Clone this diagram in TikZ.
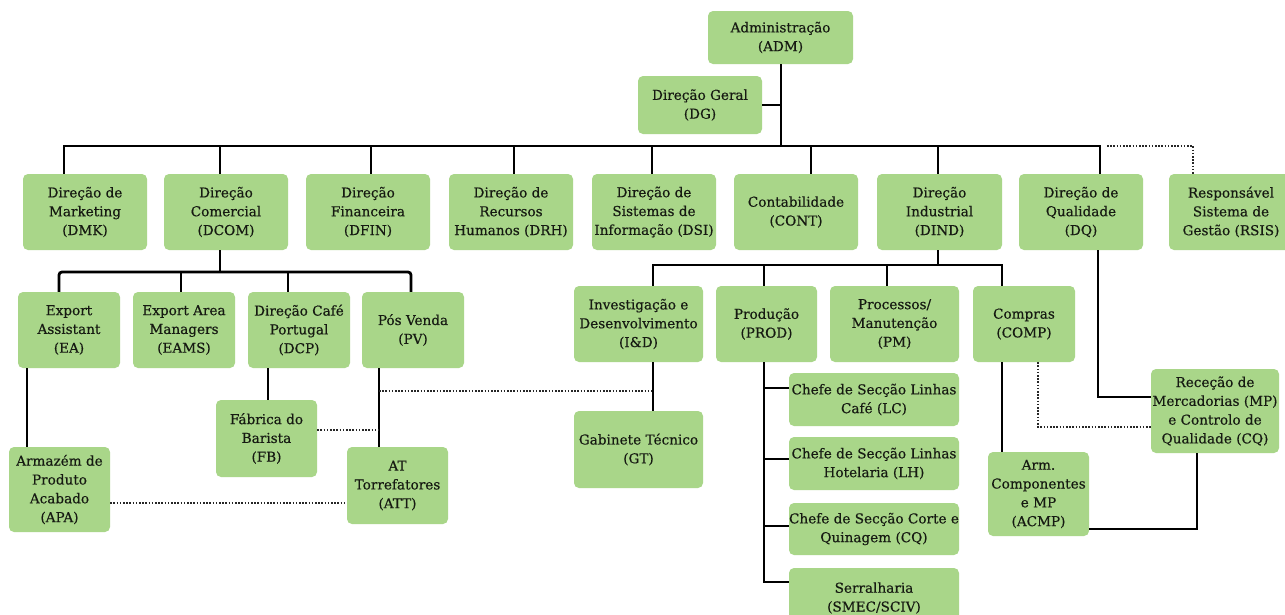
\documentclass[tikz,border=0pt]{standalone}
\usepackage{fontspec}
\setmainfont{DejaVu Serif}
\newfontfamily\boxfont{DejaVu Serif}[FakeBold=0.45]
\definecolor{boxgreen}{HTML}{A9D689}
\definecolor{inkdark}{HTML}{161A12}
\tikzset{
  orgbox/.style={fill=boxgreen, draw=none, rounded corners=5pt, inner sep=0pt,
    align=center, text=inkdark, font=\boxfont\fontsize{13.6}{18.8}\selectfont},
  wire/.style={draw=black, line width=2.8pt},
  dotlink/.style={draw=black!85, line width=2.2pt, dash pattern=on 1.6pt off 1.6pt},
}
% box by its corners: name, x1, y1, x2, y2, text
\newcommand\orgbox[6]{%
  \node[orgbox, minimum width={(#4-#2)*1pt}, minimum height={(#5-#3)*1pt}]
    (#1) at ({(#2+#4)/2},{(#3+#5)/2}) {#6};}
\begin{document}
\begin{tikzpicture}[x=1pt,y=-1pt]
\clip (0,0) rectangle (1285,614);
\fill[white] (0,0) rectangle (1285,614);

% top level
\orgbox{ADM}{708}{11}{853}{64}{Administração\\(ADM)}
\orgbox{DG}{638}{76}{762}{134}{Direção Geral\\(DG)}

% directions
\orgbox{DMK}{23}{174}{147}{250}{Direção de\\Marketing\\(DMK)}
\orgbox{DCOM}{164}{174}{288}{250}{Direção\\Comercial\\(DCOM)}
\orgbox{DFIN}{306}{174}{430}{250}{Direção\\Financeira\\(DFIN)}
\orgbox{DRH}{449}{174}{573}{250}{Direção de\\Recursos\\Humanos (DRH)}
\orgbox{DSI}{592}{174}{716}{250}{Direção de\\Sistemas de\\Informação (DSI)}
\orgbox{CONT}{734}{174}{858}{250}{Contabilidade\\(CONT)}
\orgbox{DIND}{877}{174}{1002}{250}{Direção\\Industrial\\(DIND)}
\orgbox{DQ}{1019}{174}{1143}{250}{Direção de\\Qualidade\\(DQ)}
\orgbox{RSIS}{1169}{174}{1293}{250}{Responsável\\Sistema de\\Gestão (RSIS)}

% commercial branch
\orgbox{EA}{18}{292}{120}{368}{Export\\Assistant\\(EA)}
\orgbox{EAMS}{133}{292}{235}{368}{Export Area\\Managers\\(EAMS)}
\orgbox{DCP}{248}{292}{350}{368}{Direção Café\\Portugal\\(DCP)}
\orgbox{PV}{362}{292}{464}{368}{Pós Venda\\(PV)}
\orgbox{APA}{9}{447}{110}{532}{Armazém de\\Produto\\Acabado\\(APA)}
\orgbox{FB}{216}{400}{317}{477}{Fábrica do\\Barista\\(FB)}
\orgbox{ATT}{347}{447}{448}{524}{AT\\Torrefatores\\(ATT)}

% industrial branch
\orgbox{ID}{574}{286}{703}{362}{Investigação e\\Desenvolvimento\\(I\&D)}
\orgbox{PROD}{716}{286}{817}{362}{Produção\\(PROD)}
\orgbox{PM}{830}{286}{959}{362}{Processos/\\Manutenção\\(PM)}
\orgbox{COMP}{973}{286}{1075}{362}{Compras\\(COMP)}
\orgbox{GT}{574}{411}{703}{488}{Gabinete Técnico\\(GT)}
\orgbox{LC}{789}{373}{959}{426}{Chefe de Secção Linhas\\Café (LC)}
\orgbox{LH}{789}{437}{959}{490}{Chefe de Secção Linhas\\Hotelaria (LH)}
\orgbox{CQ}{789}{503}{959}{555}{Chefe de Secção Corte e\\Quinagem (CQ)}
\orgbox{SMEC}{789}{568}{959}{628}{Serralharia\\(SMEC/SCIV)}
\orgbox{ACMP}{988}{452}{1089}{536}{Arm.\\Componentes\\e MP\\(ACMP)}
\orgbox{MP}{1151}{369}{1279}{453}{Receção de\\Mercadorias (MP)\\e Controlo de\\Qualidade (CQ)}

% guide coordinates for the line runs
\coordinate (bus) at (0,146);
\coordinate (xADM) at (781,0);
\coordinate (xDMK) at (64,0);
\coordinate (xDCOM) at (220,0);
\coordinate (xDFIN) at (371,0);
\coordinate (xDRH) at (514,0);
\coordinate (xDSI) at (652,0);
\coordinate (xCONT) at (811,0);
\coordinate (xDIND) at (938,0);
\coordinate (xDQ) at (1100,0);
\coordinate (xRSIS) at (1193,0);
\coordinate (rsisStart) at (1107,146);

\coordinate (subCom) at (0,272);
\coordinate (xEA) at (59,0);
\coordinate (xEAMS) at (181,0);
\coordinate (xDCP) at (288,0);
\coordinate (xPV) at (411,0);
\coordinate (xAPA) at (27,0);
\coordinate (xFB) at (268,0);
\coordinate (xATT) at (379,0);
\coordinate (yFBdots) at (0,430);
\coordinate (yAPAdots) at (0,503);
\coordinate (yPVdots) at (0,391);

\coordinate (subInd) at (0,265);
\coordinate (xID) at (653,0);
\coordinate (xPROD) at (764,0);
\coordinate (xPM) at (887,0);
\coordinate (xCOMP) at (1002,0);
\coordinate (yLC) at (0,388);
\coordinate (yLH) at (0,459);
\coordinate (yCQ) at (0,526);
\coordinate (ySMEC) at (0,582);
\coordinate (xDQdown) at (1098,0);
\coordinate (yDQmp) at (0,397);
\coordinate (xMPdown) at (1197,0);
\coordinate (yMPacmp) at (0,529);
\coordinate (xCOMPdots) at (1038,0);
\coordinate (yCOMPdots) at (0,427);

% main bus
\draw[wire] (ADM.south -| xADM) -- (xADM |- bus);
\draw[wire] (DG.east) -- (DG.east -| xADM);
\draw[wire] (DMK.north -| xDMK) -- (xDMK |- bus) -- (xDQ |- bus) -- (DQ.north -| xDQ);
\foreach \n in {DCOM,DFIN,DRH,DSI,CONT,DIND}
  \draw[wire] (x\n |- bus) -- (\n.north -| x\n);
\draw[dotlink] (rsisStart) -- (xRSIS |- bus) -- (RSIS.north -| xRSIS);

% commercial branch
\draw[wire] (DCOM.south -| xDCOM) -- (xDCOM |- subCom);
\draw[wire, rounded corners=3pt] (EA.north -| xEA) -- (xEA |- subCom) -- (xPV |- subCom) -- (PV.north -| xPV);
\draw[wire] (xEAMS |- subCom) -- (EAMS.north -| xEAMS);
\draw[wire] (xDCP |- subCom) -- (DCP.north -| xDCP);
\draw[wire] (EA.south -| xAPA) -- (APA.north -| xAPA);
\draw[wire] (DCP.south -| xFB) -- (FB.north -| xFB);
\draw[wire] (PV.south -| xATT) -- (ATT.north -| xATT);
\draw[dotlink] (FB.east |- yFBdots) -- (xATT |- yFBdots);
\draw[dotlink] (APA.east |- yAPAdots) -- (ATT.west |- yAPAdots);
\draw[dotlink] (xATT |- yPVdots) -- (xID |- yPVdots);

% industrial branch
\draw[wire] (DIND.south -| xDIND) -- (xDIND |- subInd);
\draw[wire] (ID.north -| xID) -- (xID |- subInd) -- (xCOMP |- subInd) -- (COMP.north -| xCOMP);
\draw[wire] (xPROD |- subInd) -- (PROD.north -| xPROD);
\draw[wire] (xPM |- subInd) -- (PM.north -| xPM);
\draw[wire] (ID.south -| xID) -- (GT.north -| xID);
\draw[wire] (PROD.south -| xPROD) -- (xPROD |- ySMEC) -- (SMEC.west |- ySMEC);
\foreach \n in {LC,LH,CQ}
  \draw[wire] (xPROD |- y\n) -- (\n.west |- y\n);
\draw[wire] (COMP.south -| xCOMP) -- (ACMP.north -| xCOMP);

% quality branch
\draw[wire] (DQ.south -| xDQdown) -- (xDQdown |- yDQmp) -- (MP.west |- yDQmp);
\draw[wire] (MP.south -| xMPdown) -- (xMPdown |- yMPacmp) -- (ACMP.east |- yMPacmp);
\draw[dotlink] (COMP.south -| xCOMPdots) -- (xCOMPdots |- yCOMPdots) -- (MP.west |- yCOMPdots);
\end{tikzpicture}
\end{document}
